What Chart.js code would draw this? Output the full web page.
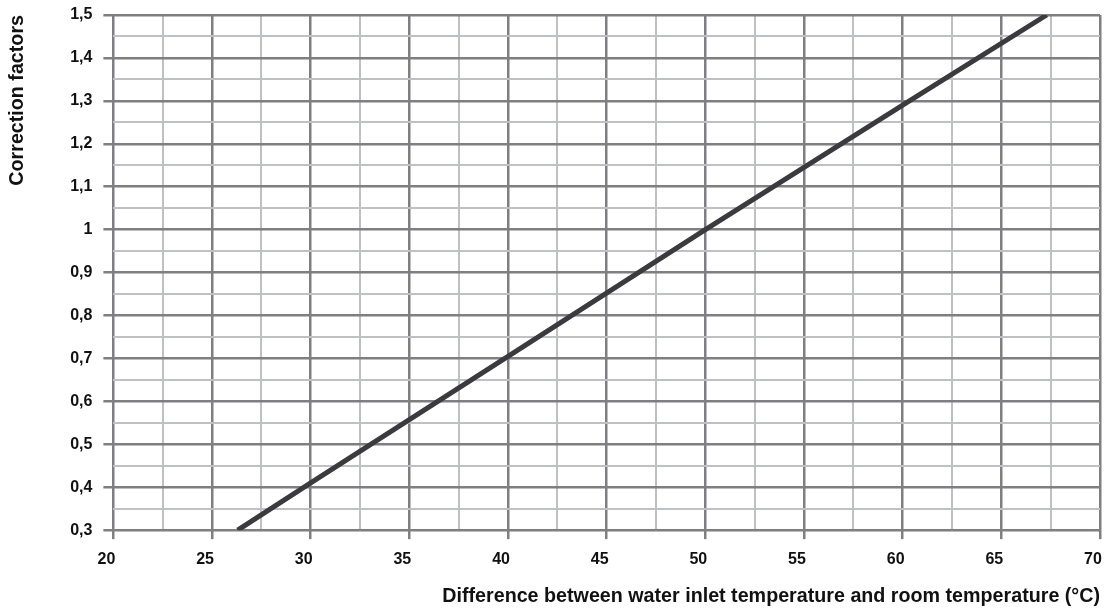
<!DOCTYPE html>
<html>
<head>
<meta charset="utf-8">
<script src="https://cdn.jsdelivr.net/npm/chart.js@4.4.1/dist/chart.umd.min.js"></script>
<style>
  html, body { margin: 0; padding: 0; background: #fff; }
  #wrap { width: 1105px; height: 611px; }
</style>
</head>
<body>
<div id="wrap"><canvas id="chart"></canvas></div>
<script>
// Data
const tempDiff = [26.3, 30, 40, 50, 60, 67.3];
const correction = [0.3, 0.41, 0.705, 1.0, 1.29, 1.5];

const xMin = 20, xMax = 70, xStep = 2.5;
const yMin = 0.3, yMax = 1.5, yStep = 0.05;

const majorColor = '#7f7f83';
const minorColor = '#bec0c3';
const lineColor = '#3b3b3f';
const fontFamily = '"Liberation Sans", Arial, sans-serif';

function isMajorX(v) { return Math.round(v * 10) % 50 === 0; }
function isMajorY(v) { return Math.round(v * 100) % 10 === 0; }

const points = tempDiff.map((x, i) => ({ x: x, y: correction[i] }));

const ctx = document.getElementById('chart').getContext('2d');
new Chart(ctx, {
    type: 'scatter',
    data: {
        datasets: [{
            data: points,
            showLine: true,
            borderColor: lineColor,
            borderWidth: 5,
            pointRadius: 0,
            tension: 0
        }]
    },
    options: {
        responsive: true,
        maintainAspectRatio: false,
        animation: false,
        layout: { padding: { top: 15, right: 5, left: 0, bottom: 3 } },
        plugins: {
            legend: { display: false },
            tooltip: { enabled: false }
        },
        scales: {
            x: {
                type: 'linear',
                min: xMin,
                max: xMax,
                border: { display: false },
                afterFit: (s) => { s.paddingRight = 0; s.paddingLeft = 0; },
                grid: {
                    color: (c) => isMajorX(c.tick.value) ? majorColor : minorColor,
                    lineWidth: (c) => isMajorX(c.tick.value) ? 2.5 : 2,
                    tickLength: 9,
                    tickColor: (c) => isMajorX(c.tick.value) ? majorColor : 'rgba(0,0,0,0)',
                    tickWidth: 2.5
                },
                ticks: {
                    stepSize: xStep,
                    autoSkip: false,
                    maxRotation: 0,
                    padding: 11,
                    labelOffset: -7,
                    color: '#111',
                    font: { family: fontFamily, size: 16, weight: 'bold' },
                    callback: (v) => isMajorX(v) ? String(v) : ''
                },
                title: {
                    display: true,
                    align: 'end',
                    text: 'Difference between water inlet temperature and room temperature (°C)',
                    color: '#111',
                    padding: { top: 4, bottom: 0 },
                    font: { family: fontFamily, size: 19.7, weight: 'bold' }
                }
            },
            y: {
                type: 'linear',
                min: yMin,
                max: yMax,
                border: { display: false },
                afterFit: (s) => { s.paddingTop = 0; s.paddingBottom = 0; },
                grid: {
                    color: (c) => isMajorY(c.tick.value) ? majorColor : minorColor,
                    lineWidth: (c) => isMajorY(c.tick.value) ? 2.5 : 2,
                    tickLength: 10,
                    tickColor: (c) => isMajorY(c.tick.value) ? majorColor : 'rgba(0,0,0,0)',
                    tickWidth: 2.5
                },
                ticks: {
                    stepSize: yStep,
                    autoSkip: false,
                    padding: 11,
                    color: '#111',
                    font: { family: fontFamily, size: 16, weight: 'bold' },
                    callback: (v) => isMajorY(v) ? String(Math.round(v * 10) / 10).replace('.', ',') : ''
                },
                title: {
                    display: true,
                    align: 'end',
                    text: 'Correction factors',
                    color: '#111',
                    padding: { top: 6, bottom: 29.5 },
                    font: { family: fontFamily, size: 19.7, weight: 'bold' }
                }
            }
        }
    }
});
</script>
</body>
</html>
